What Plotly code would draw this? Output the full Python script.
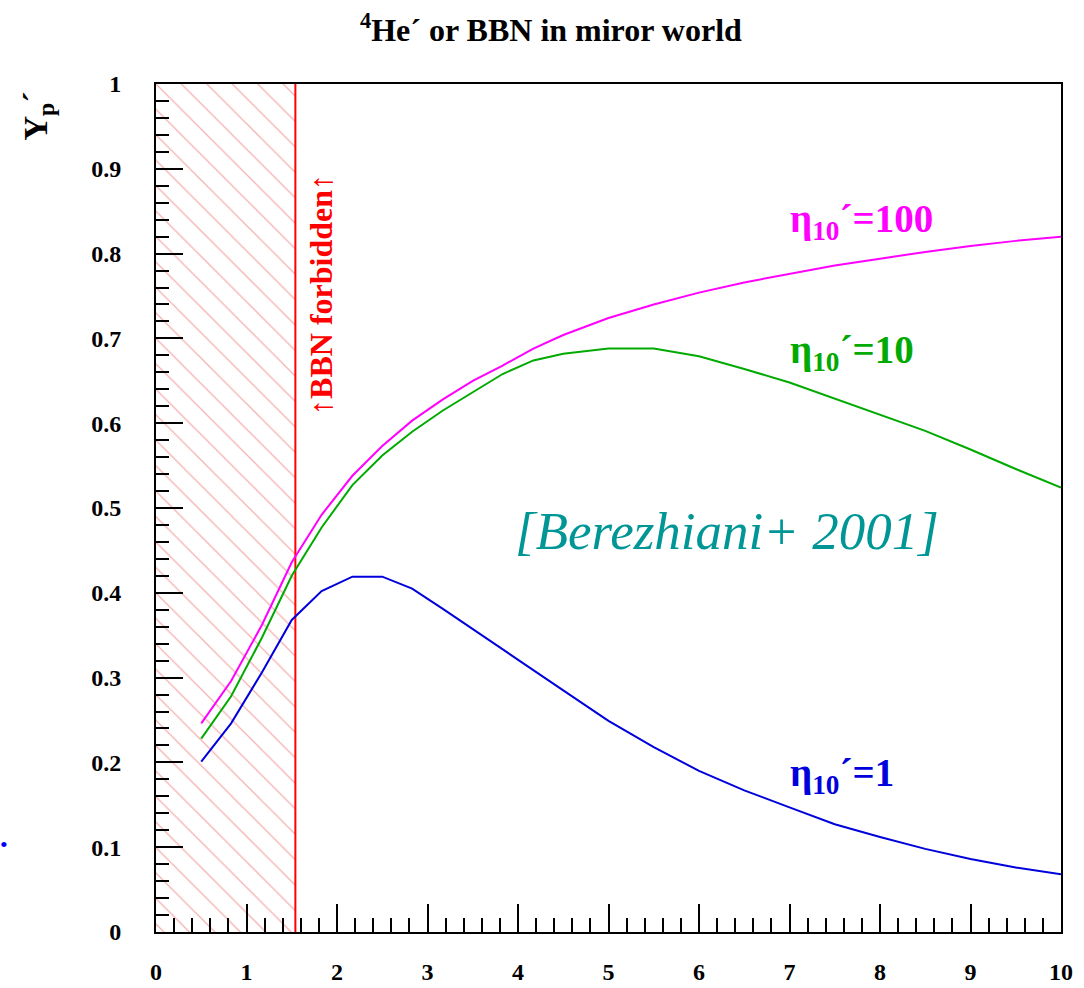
import plotly.graph_objects as go

# eta'_10 = 1, 10, 100 curves: mirror helium fraction Y_p' vs x
x_vals = [0.5, 0.83, 1.17, 1.5, 1.83, 2.17, 2.5, 2.83, 3.17, 3.5, 3.83, 4.17,
          4.5, 5.0, 5.5, 6.0, 6.5, 7.0, 7.5, 8.0, 8.5, 9.0, 9.5, 10.0]
y_eta100 = [0.246, 0.296, 0.362, 0.436, 0.492, 0.538, 0.573, 0.603, 0.628, 0.650,
            0.668, 0.688, 0.704, 0.724, 0.740, 0.754, 0.766, 0.776, 0.786, 0.794,
            0.802, 0.809, 0.815, 0.820]
y_eta10 = [0.228, 0.278, 0.347, 0.420, 0.477, 0.527, 0.562, 0.590, 0.615, 0.636,
           0.658, 0.674, 0.682, 0.688, 0.688, 0.679, 0.664, 0.648, 0.629, 0.610,
           0.591, 0.569, 0.546, 0.524]
y_eta1 = [0.201, 0.246, 0.306, 0.368, 0.402, 0.419, 0.419, 0.405, 0.381, 0.357,
          0.334, 0.309, 0.285, 0.249, 0.218, 0.190, 0.167, 0.147, 0.127, 0.112,
          0.098, 0.086, 0.076, 0.068]

x_forbidden = 1.54          # BBN forbidden below this value
x_range = [0, 10]
y_range = [0, 1]

x_ticks = list(range(0, 11))
y_ticks = [0, 0.1, 0.2, 0.3, 0.4, 0.5, 0.6, 0.7, 0.8, 0.9, 1]
y_tick_text = ["0", "0.1", "0.2", "0.3", "0.4", "0.5", "0.6", "0.7", "0.8", "0.9", "1"]

SERIF = "Liberation Serif, Times New Roman, serif"
RED = "rgb(255,0,0)"
MAGENTA = "rgb(255,0,255)"
GREEN = "rgb(0,170,0)"
BLUE = "rgb(0,0,220)"
TEAL = "rgb(0,150,150)"

fig = go.Figure()

# hatched forbidden region
fig.add_trace(go.Scatter(
    x=[0, x_forbidden, x_forbidden, 0, 0],
    y=[0, 0, 1, 1, 0],
    mode="lines", line=dict(width=0),
    fill="toself", fillcolor="rgba(0,0,0,0)",
    fillpattern=dict(shape="\\", size=18, solidity=0.07,
                     fgcolor="rgb(236,95,95)", bgcolor="white"),
    hoverinfo="skip", showlegend=False,
))
# forbidden boundary
fig.add_trace(go.Scatter(
    x=[x_forbidden, x_forbidden], y=[0, 1], mode="lines",
    line=dict(color=RED, width=2), showlegend=False, hoverinfo="skip",
))

for ys, col in [(y_eta100, MAGENTA), (y_eta10, GREEN), (y_eta1, BLUE)]:
    fig.add_trace(go.Scatter(x=x_vals, y=ys, mode="lines",
                             line=dict(color=col, width=2), showlegend=False))

axis_common = dict(
    showgrid=False, zeroline=False, showline=True, linecolor="black",
    linewidth=2, mirror=True, ticks="inside", tickcolor="black", tickwidth=2,
    automargin=False,
    tickfont=dict(family=SERIF, size=24, color="black", weight="bold"),
)

fig.update_xaxes(range=x_range, tickvals=x_ticks, ticklen=28,
                 minor=dict(dtick=0.2, ticks="inside", ticklen=14,
                            tickwidth=2, tickcolor="black"),
                 ticklabelstandoff=17, **axis_common)
fig.update_yaxes(range=y_range, tickvals=y_ticks, ticktext=y_tick_text,
                 ticklen=27,
                 minor=dict(dtick=0.02, ticks="inside", ticklen=13,
                            tickwidth=2, tickcolor="black"),
                 ticklabelstandoff=28, **axis_common)

def note(text, x, y, size, color, ref="data", angle=0, xanchor="center"):
    return dict(text=text, x=x, y=y, xref="paper" if ref == "paper" else "x",
                yref="paper" if ref == "paper" else "y", textangle=angle,
                xanchor=xanchor, yanchor="middle", showarrow=False,
                font=dict(family=SERIF, size=size, color=color))

annotations = [
    note("<b><sup>4</sup>He´ or BBN in miror world</b>", 0.436, 1.066, 32, "black", ref="paper"),
    note("<b>Y<sub>p</sub>´</b>", -0.130, 0.962, 34, "black", ref="paper", angle=-90),
    note("<b>↑BBN forbidden↑</b>", 1.83, 0.752, 32, RED, angle=-90),
    note("<b>η<sub>10</sub>´=100</b>", 6.98, 0.838, 39, MAGENTA, xanchor="left"),
    note("<b>η<sub>10</sub>´=10</b>", 6.98, 0.683, 39, GREEN, xanchor="left"),
    note("<b>η<sub>10</sub>´=1</b>", 6.98, 0.185, 39, BLUE, xanchor="left"),
    note("<i>[Berezhiani+ 2001]</i>", 6.31, 0.473, 53, TEAL),
    note("•", -0.168, 0.103, 22, "blue", ref="paper"),
]
fig.update_layout(
    width=1084, height=988,
    margin=dict(l=156, r=23, t=84, b=56),
    paper_bgcolor="white", plot_bgcolor="white",
    annotations=annotations,
)

fig.write_html("out.html")
